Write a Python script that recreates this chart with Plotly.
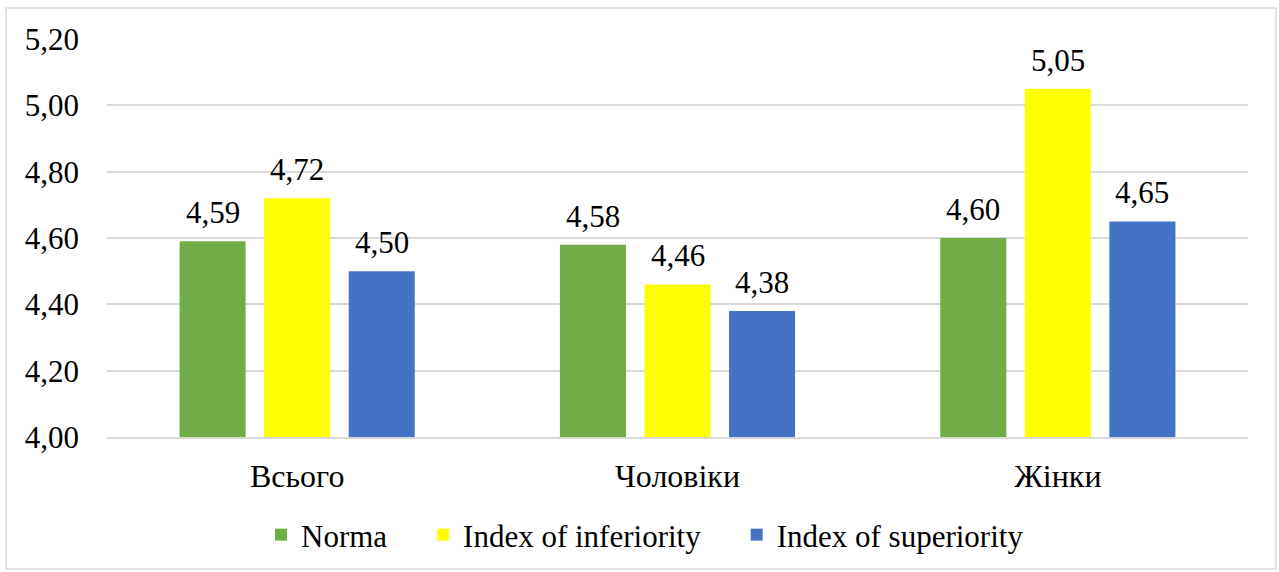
import plotly.graph_objects as go

categories = ["Всього", "Чоловіки", "Жінки"]
series_names = ["Norma", "Index of inferiority", "Index of superiority"]
norma = [4.59, 4.58, 4.60]
inferiority = [4.72, 4.46, 5.05]
superiority = [4.50, 4.38, 4.65]
colors = ["#70AD47", "#FFFF00", "#4472C4"]
tick_vals = [4.0, 4.2, 4.4, 4.6, 4.8, 5.0, 5.2]

FONT = "Liberation Serif"
W, H = 1279, 572
L, R, T, B = 107, 31, 39, 135
BARGAP, GROUPGAP = 0.333, 0.219
legend_pad = "\u00a0\u00a0\u00a0\u00a0"

series = [norma, inferiority, superiority]
fig = go.Figure()
for k, (name, vals, c) in enumerate(zip(series_names, series, colors)):
    label = name + (legend_pad if k < len(series) - 1 else "")
    fig.add_trace(go.Bar(
        x=categories, y=vals, name=label, marker=dict(color=c, line=dict(width=0)),
        hoverinfo="skip",
    ))

# data labels placed above each bar using the category-axis index and group offsets
slot = (1 - BARGAP) / len(series)
for k, vals in enumerate(series):
    for j, v in enumerate(vals):
        fig.add_annotation(
            x=j + (k - (len(series) - 1) / 2) * slot, y=v, xref="x", yref="y",
            text=f"{v:.2f}".replace(".", ","), showarrow=False,
            yanchor="bottom", xanchor="center", yshift=9,
            font=dict(family=FONT, size=31, color="black"),
        )

pw, ph = W - L - R, H - T - B
def px2paper_x(px): return (px - L) / pw
def px2paper_y(py): return (H - B - py) / ph

fig.add_shape(type="rect", xref="paper", yref="paper",
              x0=px2paper_x(6), x1=px2paper_x(1276), y0=px2paper_y(569), y1=px2paper_y(8),
              line=dict(color="#d9d9d9", width=1.5), fillcolor="rgba(0,0,0,0)", layer="below")

fig.update_layout(
    width=W, height=H, autosize=False,
    margin=dict(l=L, r=R, t=T, b=B, autoexpand=False),
    paper_bgcolor="white", plot_bgcolor="white",
    separators=", ",
    barmode="group", bargap=BARGAP, bargroupgap=GROUPGAP,
    font=dict(family=FONT, size=31, color="black"),
    showlegend=True,
    legend=dict(orientation="h", x=px2paper_x(645), xanchor="center", y=px2paper_y(535), yanchor="middle",
                font=dict(family=FONT, size=31, color="black"), itemwidth=30, tracegroupgap=0),
)
fig.update_yaxes(range=[4.0, 5.2], tickvals=tick_vals, tickformat=".2f", automargin=False,
                 showgrid=True, gridcolor="#d9d9d9", gridwidth=1.5, zeroline=False,
                 showline=False, ticks="", ticklabelstandoff=27,
                 tickfont=dict(family=FONT, size=31, color="black"))
fig.update_xaxes(showline=True, linecolor="#d9d9d9", linewidth=1.5, ticks="", automargin=False,
                 ticklabelstandoff=10, tickfont=dict(family=FONT, size=32, color="black"))

fig.write_html("out.html", config={"displayModeBar": False},
               post_script="document.body.style.margin='0';document.body.style.padding='0';")
